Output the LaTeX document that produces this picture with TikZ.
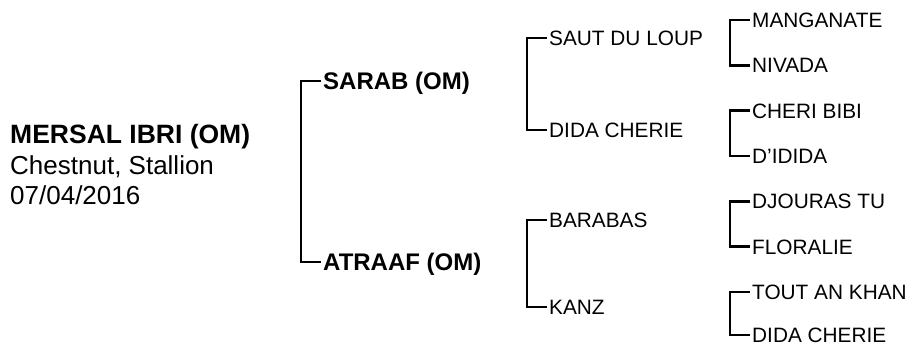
\documentclass[tikz,border=0pt]{standalone}
\usepackage{fontspec}
\setmainfont{Liberation Sans}
\usetikzlibrary{calc}
\tikzset{
  lbl/.style={inner sep=0pt, anchor=base west, text=black},
  g0/.style={lbl, font=\fontsize{26.5}{30}\selectfont\bfseries},
  g0info/.style={lbl, font=\fontsize{26}{30}\selectfont},
  g1/.style={lbl, font=\fontsize{24}{28}\selectfont\bfseries},
  g2/.style={lbl, font=\fontsize{20.8}{24}\selectfont},
  br/.style={draw=black, line width=2.6pt, line join=miter},
}
\begin{document}
\begin{tikzpicture}[x=1pt,y=-1pt]
\useasboundingbox (0,0) rectangle (914,346);
% subject
\node[g0] (horse) at (10,143) {MERSAL IBRI (OM)};
\node[g0info] (colour) at (10,174) {Chestnut, Stallion};
\node[g0info] (dob) at (10,204) {07/04/2016};
% generation 1
\node[g1] (sire) at (323,89.6) {SARAB (OM)};
\node[g1] (dam) at (323,270.6) {ATRAAF (OM)};
% generation 2
\node[g2] (ss) at (549,45.45) {SAUT DU LOUP};
\node[g2] (sd) at (549,137.45) {DIDA CHERIE};
\node[g2] (ds) at (549,227.45) {BARABAS};
\node[g2] (dd) at (549,314.45) {KANZ};
% generation 3
\node[g2] (sss) at (752,27.45) {MANGANATE};
\node[g2] (ssd) at (752,72.75) {NIVADA};
\node[g2] (sds) at (752,118.15) {CHERI BIBI};
\node[g2] (sdd) at (752,163.45) {D’IDIDA};
\node[g2] (dss) at (752,208.75) {DJOURAS TU};
\node[g2] (dsd) at (752,254.15) {FLORALIE};
\node[g2] (dds) at (752,299.45) {TOUT AN KHAN};
\node[g2] (ddd) at (752,342.5) {DIDA CHERIE};
% brackets
\draw[br] ($(sire.base west)+(-2,-8.6)$) -- ++(-20,0) |- ($(dam.base west)+(-2,-8.6)$);
\draw[br] ($(ss.base west)+(-2,-7.45)$) -- ++(-20,0) |- ($(sd.base west)+(-2,-7.45)$);
\draw[br] ($(ds.base west)+(-2,-7.45)$) -- ++(-20,0) |- ($(dd.base west)+(-2,-7.45)$);
\draw[br] ($(sss.base west)+(-2,-7.45)$) -- ++(-20,0) |- ($(ssd.base west)+(-2,-7.45)$);
\draw[br] ($(sds.base west)+(-2,-7.45)$) -- ++(-20,0) |- ($(sdd.base west)+(-2,-7.45)$);
\draw[br] ($(dss.base west)+(-2,-7.45)$) -- ++(-20,0) |- ($(dsd.base west)+(-2,-7.45)$);
\draw[br] ($(dds.base west)+(-2,-7.45)$) -- ++(-20,0) |- ($(ddd.base west)+(-2,-7.45)$);
\end{tikzpicture}
\end{document}
